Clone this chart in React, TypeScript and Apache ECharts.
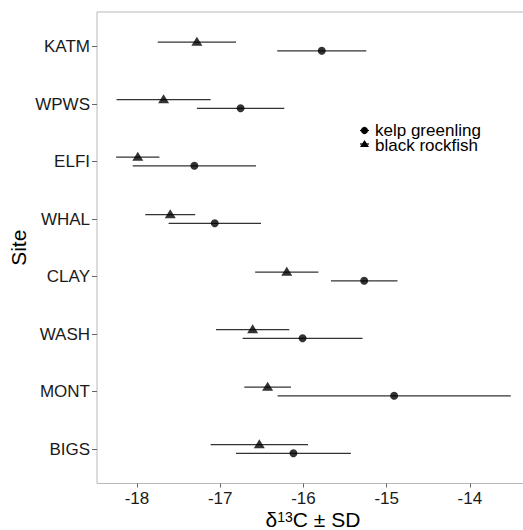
import React, { useEffect, useRef } from "react";
import * as echarts from "echarts";

const sites = ["KATM", "WPWS", "ELFI", "WHAL", "CLAY", "WASH", "MONT", "BIGS"];
const seriesNames = ["kelp greenling", "black rockfish"];
const kelpMean = [-15.78, -16.755, -17.31, -17.065, -15.27, -16.01, -14.91, -16.12];
const kelpSD = [0.535, 0.525, 0.74, 0.555, 0.4, 0.72, 1.4, 0.69];
const rockMean = [-17.28, -17.68, -17.99, -17.6, -16.2, -16.61, -16.43, -16.53];
const rockSD = [0.47, 0.565, 0.26, 0.3, 0.38, 0.44, 0.28, 0.585];
const xTicks = [-18, -17, -16, -15, -14];
const yTicks = [0, 1, 2, 3, 4, 5, 6, 7];

const FONT = "Liberation Sans, Arial, Helvetica, sans-serif";
const DODGE = 0.075;

export default function App() {
  const ref = useRef<HTMLDivElement>(null);
  useEffect(() => {
    if (!ref.current) return;
    const chart = echarts.init(ref.current, null, { renderer: "svg" });

    const groups = [
      { name: seriesNames[0], mean: kelpMean, sd: kelpSD, off: DODGE, symbol: "circle", size: 8, offset: [0, 0] },
      { name: seriesNames[1], mean: rockMean, sd: rockSD, off: -DODGE, symbol: "triangle", size: [11, 9], offset: [0, -1] },
    ];

    const series: any[] = [];
    groups.forEach((g) => {
      series.push({
        type: "custom",
        name: g.name + " sd",
        data: g.mean.map((m, i) => [m - g.sd[i], m + g.sd[i], i + g.off]),
        encode: { x: [0, 1], y: 2 },
        renderItem: (params: any, api: any) => {
          const p1 = api.coord([api.value(0), api.value(2)]);
          const p2 = api.coord([api.value(1), api.value(2)]);
          return {
            type: "line",
            shape: { x1: p1[0], y1: p1[1], x2: p2[0], y2: p2[1] },
            style: { stroke: "#333", lineWidth: 1.2 },
          };
        },
        z: 2,
      });
      series.push({
        type: "scatter",
        name: g.name,
        data: g.mean.map((m, i) => [m, i + g.off]),
        symbol: g.symbol,
        symbolSize: g.size,
        symbolOffset: g.offset,
        itemStyle: { color: "#000" },
        z: 3,
      });
    });

    const lx = 364.5;
    const ly = [130.5, 145];
    const legendGraphic: any[] = [
      { type: "line", shape: { x1: lx - 4.5, y1: ly[0], x2: lx + 4.5, y2: ly[0] }, style: { stroke: "#000", lineWidth: 1.2 } },
      { type: "circle", shape: { cx: lx, cy: ly[0], r: 3.6 }, style: { fill: "#000" } },
      { type: "line", shape: { x1: lx - 4.5, y1: ly[1] - 1, x2: lx + 4.5, y2: ly[1] - 1 }, style: { stroke: "#000", lineWidth: 1.2 } },
      { type: "polygon", shape: { points: [[lx - 4.5, ly[1] + 2], [lx + 4.5, ly[1] + 2], [lx, ly[1] - 5]] }, style: { fill: "#000" } },
      { type: "text", x: 375, y: ly[0], style: { text: seriesNames[0], fontSize: 17, lineHeight: 13, fontFamily: FONT, fill: "#000", verticalAlign: "middle", align: "left" } },
      { type: "text", x: 375, y: ly[1], style: { text: seriesNames[1], fontSize: 17, lineHeight: 13, fontFamily: FONT, fill: "#000", verticalAlign: "middle", align: "left" } },
    ];

    chart.setOption({
      animation: false,
      backgroundColor: "#fff",
      textStyle: { fontFamily: FONT },
      grid: {
        left: 97, top: 12, width: 432, height: 471.5,
        show: true, borderColor: "#b8b8b8", borderWidth: 1, backgroundColor: "transparent",
        containLabel: false, outerBoundsMode: "none",
      },
      xAxis: {
        type: "value",
        min: -18.48,
        max: -13.29,
        axisLine: { show: false, onZero: false },
        splitLine: { show: false },
        axisTick: { show: true, customValues: xTicks, length: 4, lineStyle: { color: "#666" } },
        axisLabel: { customValues: xTicks, fontSize: 17, color: "#1a1a1a", margin: 6, fontFamily: FONT, formatter: (v: number) => String(v) },
        name: "{a|δ}{b|13}{a|C ± SD}",
        nameLocation: "middle",
        nameGap: 26,
        nameMoveOverlap: false,
        nameTextStyle: {
          rich: {
            a: { fontSize: 21, fontFamily: FONT, color: "#000", lineHeight: 20 },
            b: { fontSize: 14, fontFamily: FONT, color: "#000", verticalAlign: "top", lineHeight: 20 },
          },
        },
      },
      yAxis: {
        type: "value",
        inverse: true,
        min: -0.6,
        max: 7.6,
        axisLine: { show: false, onZero: false },
        splitLine: { show: false },
        axisTick: { show: true, customValues: yTicks, length: 5, lineStyle: { color: "#666" } },
        axisLabel: { customValues: yTicks, fontSize: 17, color: "#1a1a1a", margin: 7, fontFamily: FONT, formatter: (v: number) => sites[Math.round(v)] ?? "" },
        name: "Site",
        nameLocation: "middle",
        nameGap: 68,
        nameMoveOverlap: false,
        nameTextStyle: { fontSize: 21, fontFamily: FONT, color: "#000" },
      },
      graphic: legendGraphic,
      series,
    });
    return () => chart.dispose();
  }, []);
  return <div ref={ref} style={{ position: "fixed", left: 0, top: 0, width: 523, height: 530 }} />;
}
